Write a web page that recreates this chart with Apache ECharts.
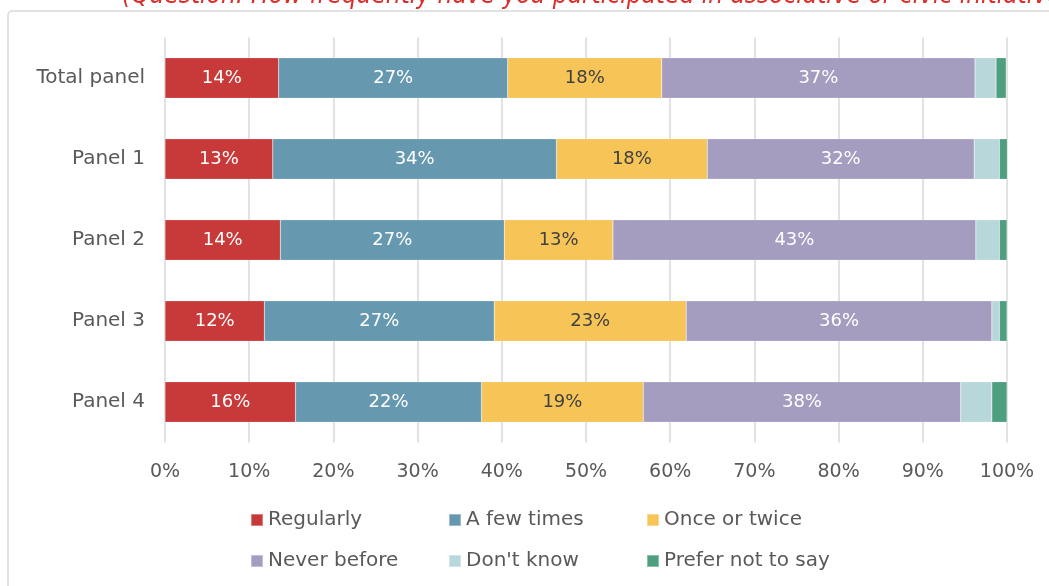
<!DOCTYPE html>
<html>
<head>
<meta charset="utf-8">
<script src="https://cdn.jsdelivr.net/npm/echarts@6/dist/echarts.min.js"></script>
<style>
html,body{margin:0;padding:0;background:#fff;}
#main{width:1049px;height:586px;}
</style>
</head>
<body>
<div id="main"></div>
<script>
var categories = ['Total panel', 'Panel 1', 'Panel 2', 'Panel 3', 'Panel 4'];
var seriesNames = ['Regularly', 'A few times', 'Once or twice', 'Never before', "Don't know", 'Prefer not to say'];
var regularly   = [13.5, 12.8, 13.7, 11.8, 15.5];
var fewTimes    = [27.2, 33.7, 26.6, 27.3, 22.1];
var onceTwice   = [18.3, 17.9, 12.9, 22.8, 19.2];
var neverBefore = [37.2, 31.7, 43.1, 36.3, 37.7];
var dontKnow    = [2.5, 3.0, 2.8, 0.9, 3.7];
var preferNot   = [1.2, 1.0, 0.9, 0.9, 1.8];
var xTicks = [0, 10, 20, 30, 40, 50, 60, 70, 80, 90, 100];
var titleText = '(Question: How frequently have you participated in associative or civic initiatives';

var colors = ['#C8393A', '#6699B0', '#F7C457', '#A59DC0', '#B8D7DA', '#4E9E80'];
var labelColors = ['#ffffff', '#ffffff', '#404040', '#ffffff', null, null];
var values = [regularly, fewTimes, onceTwice, neverBefore, dontKnow, preferNot];
var FONT = '"DejaVu Sans", sans-serif';

var series = seriesNames.map(function (name, i) {
  return {
    name: name,
    type: 'bar',
    stack: 'total',
    barWidth: '50%',
    data: values[i],
    itemStyle: { color: colors[i], borderColor: 'rgba(255,255,255,0.35)', borderWidth: 0.5 },
    label: {
      show: labelColors[i] !== null,
      position: 'inside',
      color: labelColors[i] || '#fff',
      fontSize: 18,
      fontFamily: FONT,
      formatter: function (p) { return Math.round(p.value) + '%'; }
    },
    emphasis: { disabled: true }
  };
});

var legendCols = [245, 443, 641];
var legendRows = [505, 546];
var legends = seriesNames.map(function (name, i) {
  return {
    data: [name],
    left: legendCols[i % 3],
    top: legendRows[Math.floor(i / 3)],
    itemWidth: 12, itemHeight: 12, itemGap: 0,
    icon: 'rect',
    textStyle: { color: '#595959', fontSize: 20, fontFamily: FONT },
    selectedMode: false
  };
});

var option = {
  animation: false,
  backgroundColor: '#ffffff',
  graphic: [
    {
      type: 'rect',
      shape: { x: 8, y: 11, width: 1100, height: 700, r: 4 },
      style: { fill: 'none', stroke: '#d9d9d9', lineWidth: 1.5 },
      silent: true
    },
    {
      type: 'text',
      x: 122, y: 9,
      style: {
        text: titleText,
        fill: '#D7312E',
        fontSize: 26,
        fontStyle: 'italic',
        fontFamily: '"Liberation Sans Narrow", "DejaVu Sans Condensed", "Liberation Sans", sans-serif',
        verticalAlign: 'bottom'
      },
      silent: true
    }
  ],
  legend: legends,
  grid: { left: 165, right: 42, top: 37.5, bottom: 143.5, containLabel: false },
  xAxis: {
    type: 'value',
    min: xTicks[0],
    max: xTicks[xTicks.length - 1],
    interval: 10,
    axisLine: { show: false },
    axisTick: { show: false },
    splitLine: { show: true, lineStyle: { color: '#d9d9d9', width: 1.5 } },
    axisLabel: {
      color: '#595959', fontSize: 19, fontFamily: FONT, margin: 20,
      formatter: '{value}%'
    }
  },
  yAxis: {
    type: 'category',
    data: categories,
    inverse: true,
    axisLine: { show: false },
    axisTick: { show: false },
    axisLabel: { color: '#595959', fontSize: 20, fontFamily: FONT, margin: 20 }
  },
  series: series
};

var chart = echarts.init(document.getElementById('main'), null, { renderer: 'canvas' });
chart.setOption(option);
</script>
</body>
</html>
